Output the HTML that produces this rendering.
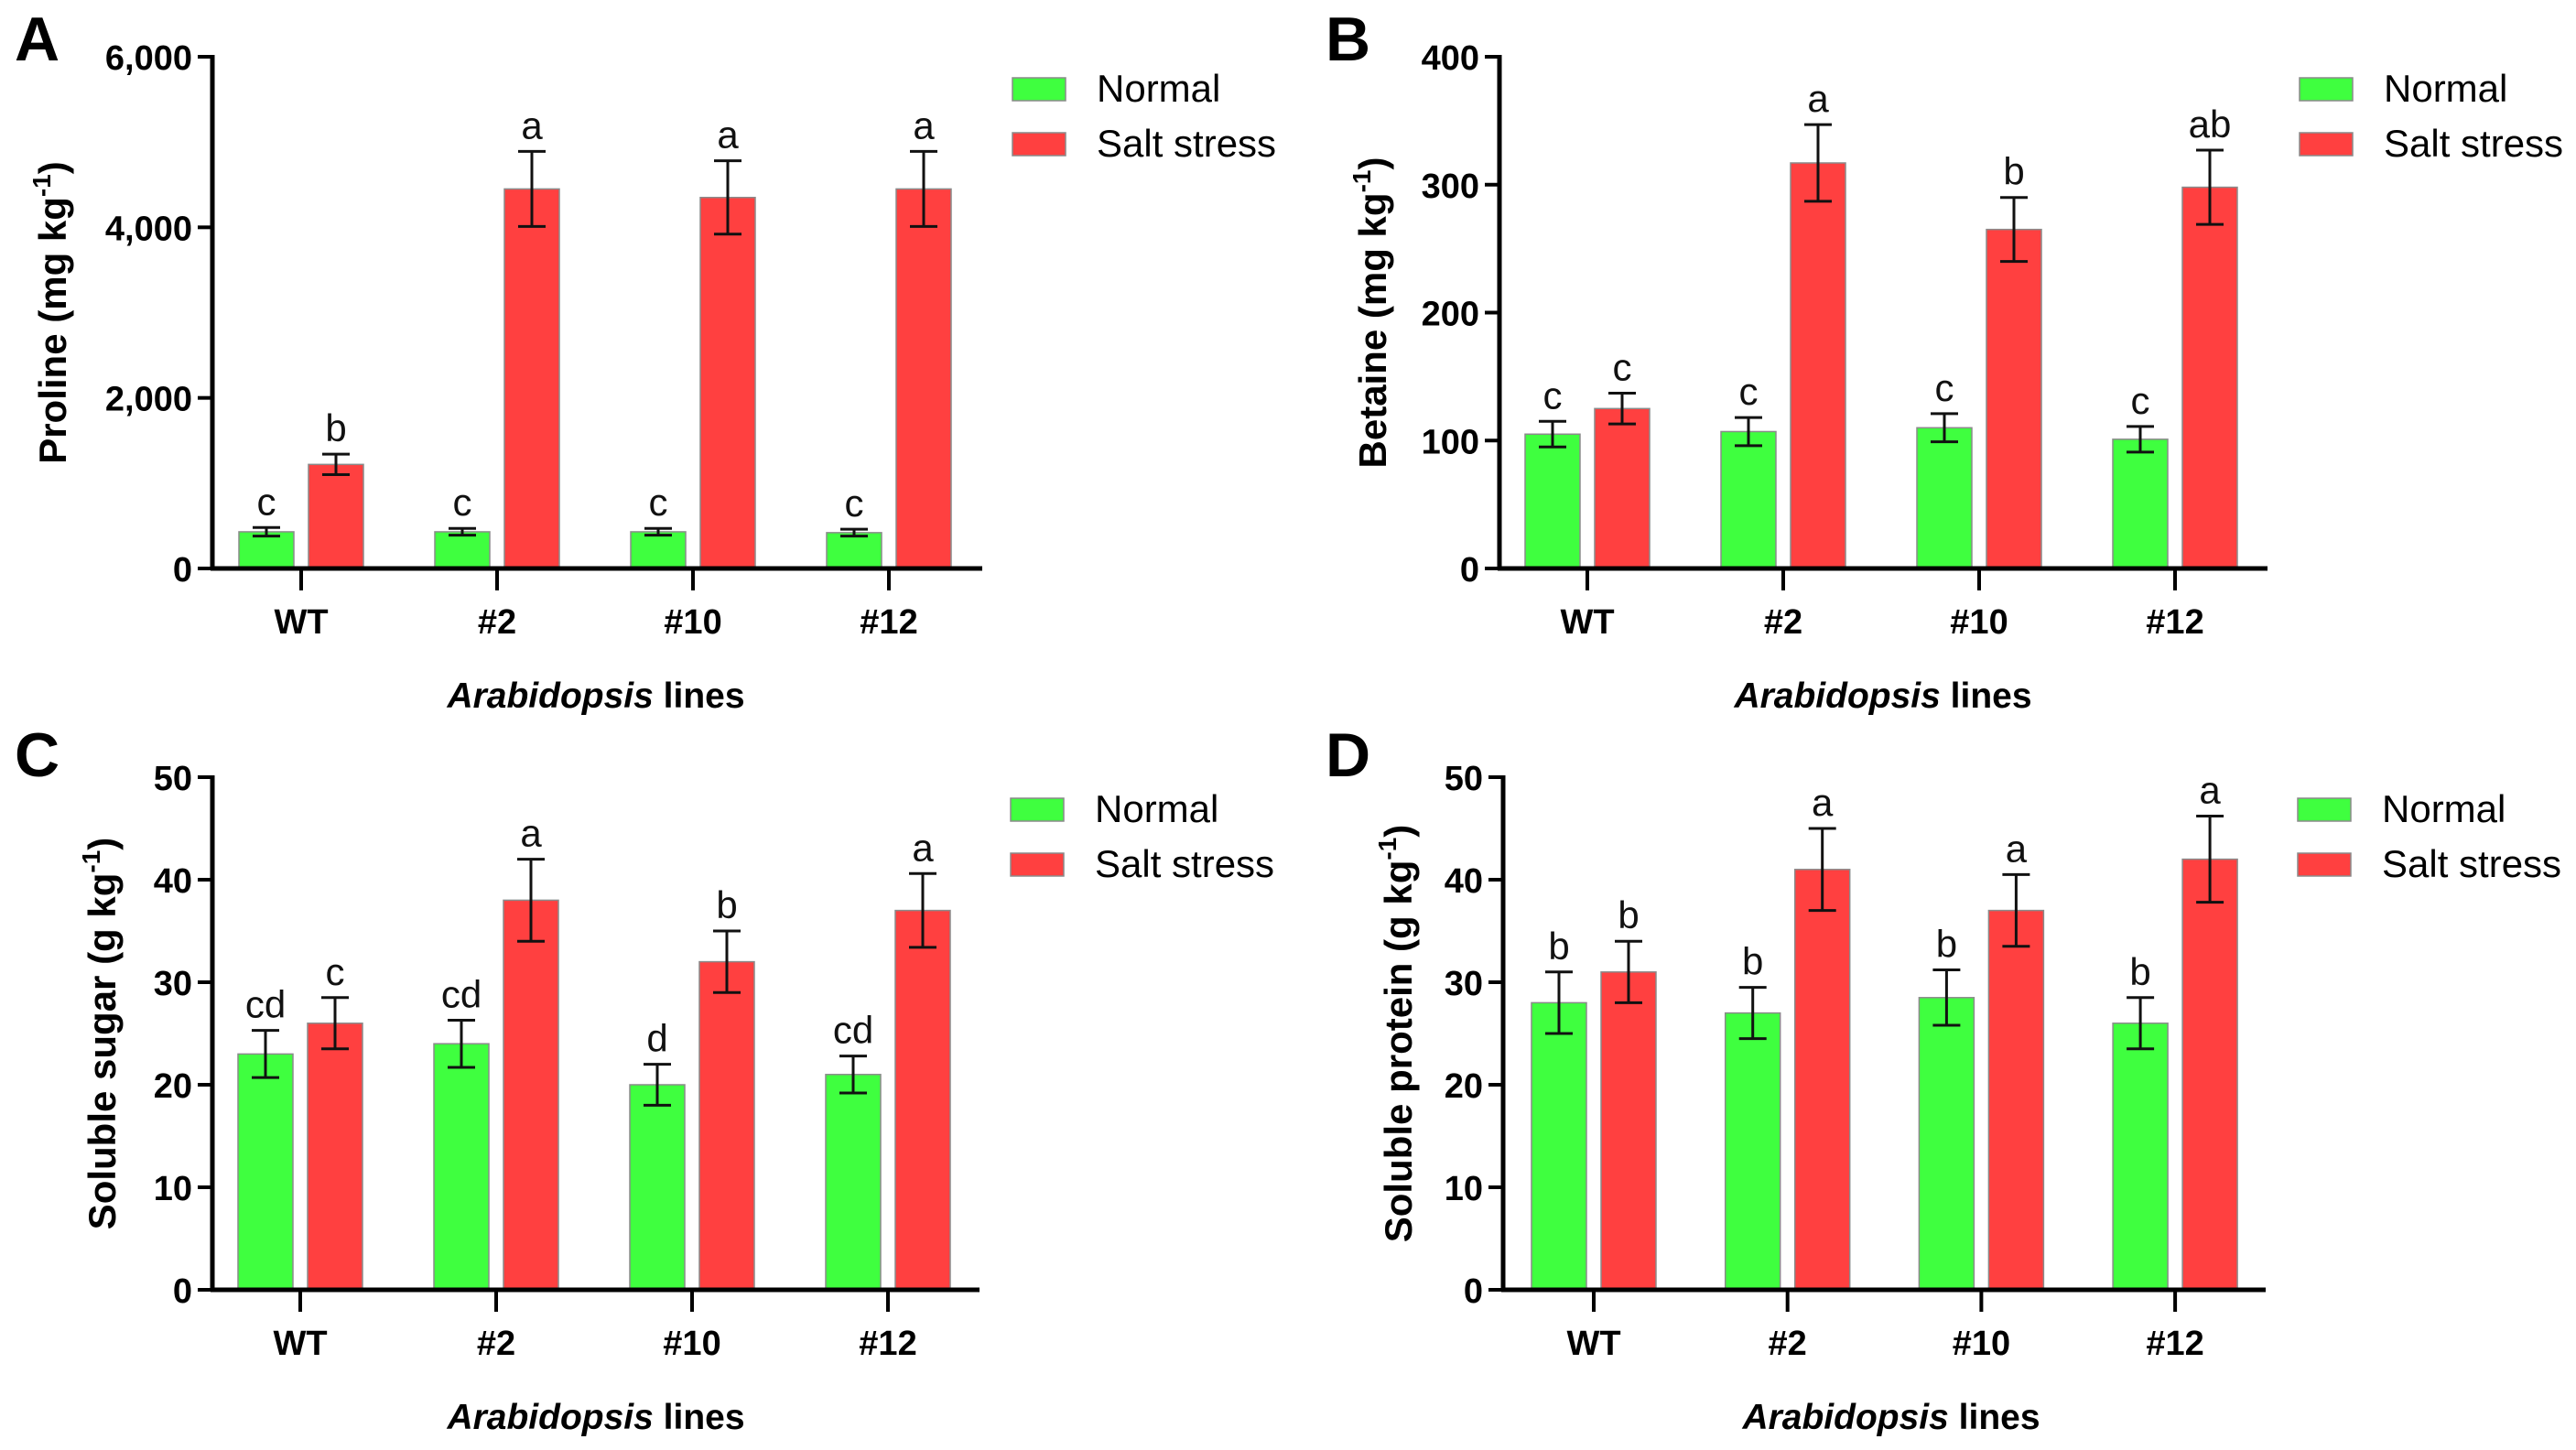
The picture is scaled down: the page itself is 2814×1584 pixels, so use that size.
<!DOCTYPE html>
<html><head><meta charset="utf-8"><style>
html,body{margin:0;padding:0;background:#fff;}
svg{display:block;font-family:"Liberation Sans",Arial,sans-serif;}
</style></head><body>
<svg id="fig" width="2814" height="1584" viewBox="0 0 2814 1584" xmlns="http://www.w3.org/2000/svg"></svg>
<script>
const categories = ["WT", "#2", "#10", "#12"];
const seriesNames = ["Normal", "Salt stress"];
// Panel A: Proline
const prolineNormal = [430, 430, 430, 420];
const prolineNormalErr = [50, 40, 40, 40];
const prolineSalt = [1220, 4450, 4350, 4450];
const prolineSaltErr = [120, 440, 430, 440];
const prolineNormalLetters = ["c", "c", "c", "c"];
const prolineSaltLetters = ["b", "a", "a", "a"];
const prolineTicks = [0, 2000, 4000, 6000];
const prolineTickLabels = ["0", "2,000", "4,000", "6,000"];
// Panel B: Betaine
const betaineNormal = [105, 107, 110, 101];
const betaineNormalErr = [10, 11, 11, 10];
const betaineSalt = [125, 317, 265, 298];
const betaineSaltErr = [12, 30, 25, 29];
const betaineNormalLetters = ["c", "c", "c", "c"];
const betaineSaltLetters = ["c", "a", "b", "ab"];
const betaineTicks = [0, 100, 200, 300, 400];
const betaineTickLabels = ["0", "100", "200", "300", "400"];
// Panel C: Soluble sugar
const sugarNormal = [23, 24, 20, 21];
const sugarNormalErr = [2.3, 2.3, 2, 1.8];
const sugarSalt = [26, 38, 32, 37];
const sugarSaltErr = [2.5, 4, 3, 3.6];
const sugarNormalLetters = ["cd", "cd", "d", "cd"];
const sugarSaltLetters = ["c", "a", "b", "a"];
const sugarTicks = [0, 10, 20, 30, 40, 50];
const sugarTickLabels = ["0", "10", "20", "30", "40", "50"];
// Panel D: Soluble protein
const proteinNormal = [28, 27, 28.5, 26];
const proteinNormalErr = [3, 2.5, 2.7, 2.5];
const proteinSalt = [31, 41, 37, 42];
const proteinSaltErr = [3, 4, 3.5, 4.2];
const proteinNormalLetters = ["b", "b", "b", "b"];
const proteinSaltLetters = ["b", "a", "a", "a"];
const proteinTicks = [0, 10, 20, 30, 40, 50];
const proteinTickLabels = ["0", "10", "20", "30", "40", "50"];

const NS = "http://www.w3.org/2000/svg";
const fig = document.getElementById("fig");
function mk(tag, attrs, parent, text) {
  const e = document.createElementNS(NS, tag);
  for (const k in attrs) e.setAttribute(k, attrs[k]);
  if (text !== undefined) e.textContent = text;
  (parent || fig).appendChild(e);
  return e;
}

function drawPanel(p) {
  const g = mk("g", {});
  
  
  const yScale = v => p.y0 - (v - p.ymin) / (p.ymax - p.ymin) * (p.y0 - p.yTop);
  const xScale = i => p.x0 + p.tickOffset + i * p.step;
  const lab = mk("text", {x: p.labelX, y: p.labelY, "font-size": 68, "font-weight": "bold"}, g, p.id);
  
  
  const series = [[p.normal, p.normalErr, p.normalLetters, "#3fff3f", -38], [p.salt, p.saltErr, p.saltLetters, "#ff4040", 38]];
  series.forEach((s, si) => {
    s[0].forEach((v, i) => {
      const cx = xScale(i) + s[4];
      const bar = mk("rect", {x: cx - 30, y: yScale(v), width: 60, height: yScale(0) - yScale(v), fill: s[3], stroke: "#8a8a8a", "stroke-width": 1.5}, g);
      
      
      const hi = yScale(v + s[1][i]), lo = yScale(v - s[1][i]);
      const eb = mk("path", {d: `M${cx},${hi}V${lo}M${cx - 15},${hi}H${cx + 15}M${cx - 15},${lo}H${cx + 15}`, stroke: "#111", "stroke-width": 3, fill: "none"}, g);
      
      
      const lt = mk("text", {x: cx, y: hi - 14, "font-size": 42, "text-anchor": "middle", fill: "#111"}, g, s[2][i]);
      
      
    });
  });
  const ya = mk("line", {x1: p.x0, y1: p.yTop - 2, x2: p.x0, y2: p.y0 + 2, stroke: "#000", "stroke-width": 5}, g);
  
  
  const xa = mk("line", {x1: p.x0 - 2, y1: p.y0, x2: p.xEnd, y2: p.y0, stroke: "#000", "stroke-width": 5}, g);
  
  
  p.ticks.forEach((t, i) => {
    const y = yScale(t);
    mk("line", {x1: p.x0 - 16, y1: y, x2: p.x0, y2: y, stroke: "#000", "stroke-width": 4}, g);
    const tl = mk("text", {x: p.x0 - 22, y: y + 14, "font-size": 38, "font-weight": "bold", "text-anchor": "end"}, g, p.tickLabels[i]);
    
    
  });
  categories.forEach((c, i) => {
    const x = xScale(i);
    mk("line", {x1: x, y1: p.y0, x2: x, y2: p.y0 + 24, stroke: "#000", "stroke-width": 4}, g);
    const cl = mk("text", {x: x, y: p.y0 + 71, "font-size": 38, "font-weight": "bold", "text-anchor": "middle"}, g, c);
    
    
  });
  const xt = mk("text", {x: p.xTitleX, y: p.y0 + 152, "font-size": 39, "font-weight": "bold", "text-anchor": "middle"}, g);
  
  
  mk("tspan", {"font-style": "italic"}, xt, "Arabidopsis");
  mk("tspan", {}, xt, " lines");
  const ytc = (p.yTop + p.y0) / 2;
  const yt = mk("text", {x: 0, y: 0, "font-size": 42, "font-weight": "bold", "text-anchor": "middle", transform: `translate(${p.yTitleX},${ytc}) rotate(-90)`}, g);
  
  
  mk("tspan", {}, yt, p.yTitle + " (" + p.unit + " kg");
  mk("tspan", {"font-size": 28, dy: -17}, yt, "-1");
  mk("tspan", {dy: 17}, yt, ")");
  [["#3fff3f", seriesNames[0]], ["#ff4040", seriesNames[1]]].forEach((l, i) => {
    const y = p.legY + i * 60;
    const sw = mk("rect", {x: p.legX, y: y, width: 58, height: 25, fill: l[0], stroke: "#8a8a8a", "stroke-width": 1.5}, g);
    
    
    const lt = mk("text", {x: p.legX + 92, y: y + 26, "font-size": 42}, g, l[1]);
    
    
  });
}

drawPanel({id: "A", labelX: 16, labelY: 66, x0: 232, y0: 621, yTop: 62, xEnd: 1073, tickOffset: 97, step: 214, ymin: 0, ymax: 6000,
  normal: prolineNormal, normalErr: prolineNormalErr, salt: prolineSalt, saltErr: prolineSaltErr,
  normalLetters: prolineNormalLetters, saltLetters: prolineSaltLetters, ticks: prolineTicks, tickLabels: prolineTickLabels,
  xTitleX: 651, yTitleX: 72, yTitle: "Proline", unit: "mg", legX: 1106, legY: 85});
drawPanel({id: "B", labelX: 1448, labelY: 66, x0: 1638, y0: 621, yTop: 62, xEnd: 2477, tickOffset: 96, step: 214, ymin: 0, ymax: 400,
  normal: betaineNormal, normalErr: betaineNormalErr, salt: betaineSalt, saltErr: betaineSaltErr,
  normalLetters: betaineNormalLetters, saltLetters: betaineSaltLetters, ticks: betaineTicks, tickLabels: betaineTickLabels,
  xTitleX: 2057, yTitleX: 1514, yTitle: "Betaine", unit: "mg", legX: 2512, legY: 85});
drawPanel({id: "C", labelX: 16, labelY: 848, x0: 232, y0: 1409, yTop: 849, xEnd: 1070, tickOffset: 96, step: 214, ymin: 0, ymax: 50,
  normal: sugarNormal, normalErr: sugarNormalErr, salt: sugarSalt, saltErr: sugarSaltErr,
  normalLetters: sugarNormalLetters, saltLetters: sugarSaltLetters, ticks: sugarTicks, tickLabels: sugarTickLabels,
  xTitleX: 651, yTitleX: 126, yTitle: "Soluble sugar", unit: "g", legX: 1104, legY: 872});
drawPanel({id: "D", labelX: 1448, labelY: 848, x0: 1642, y0: 1409, yTop: 849, xEnd: 2475, tickOffset: 99, step: 211.7, ymin: 0, ymax: 50,
  normal: proteinNormal, normalErr: proteinNormalErr, salt: proteinSalt, saltErr: proteinSaltErr,
  normalLetters: proteinNormalLetters, saltLetters: proteinSaltLetters, ticks: proteinTicks, tickLabels: proteinTickLabels,
  xTitleX: 2066, yTitleX: 1542, yTitle: "Soluble protein", unit: "g", legX: 2510, legY: 872});
</script>
</body></html>
